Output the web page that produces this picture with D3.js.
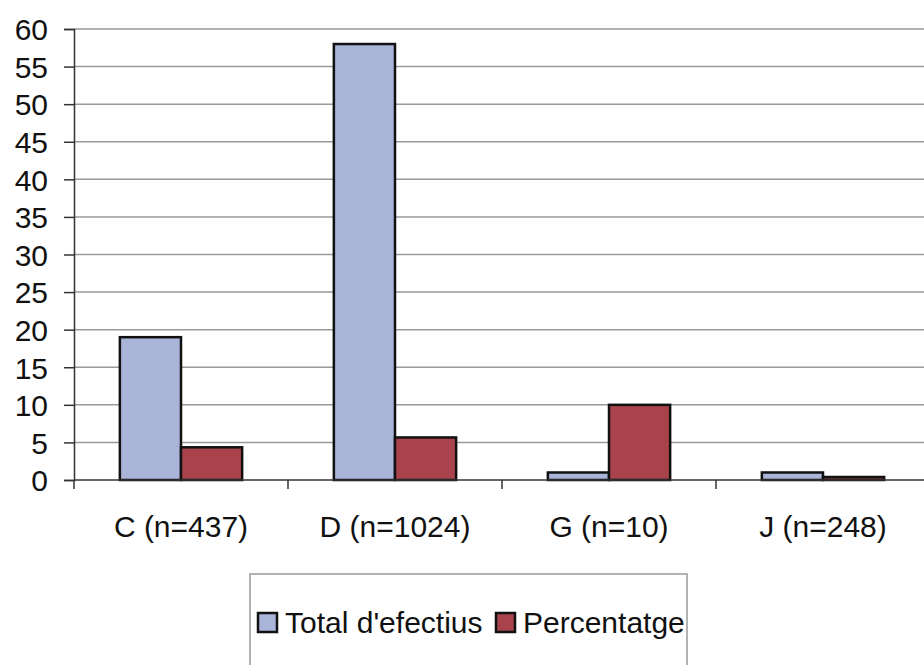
<!DOCTYPE html>
<html>
<head>
<meta charset="utf-8">
<script src="https://cdn.jsdelivr.net/npm/d3@7/dist/d3.min.js"></script>
<style>
  html, body { margin: 0; padding: 0; background: #fff; }
  svg { display: block; font-family: "Liberation Sans", Arial, sans-serif; }
</style>
</head>
<body>
<svg id="chart" width="924" height="665"></svg>
<script>
// Groups and their values
const categories = ["C (n=437)", "D (n=1024)", "G (n=10)", "J (n=248)"];
const seriesNames = ["Total d'efectius", "Percentatge"];
const totalEfectius = [19, 58, 1, 1];
const percentatge = [4.35, 5.66, 10, 0.4];
const yTicks = [0, 5, 10, 15, 20, 25, 30, 35, 40, 45, 50, 55, 60];
const seriesColors = ["#aab4d8", "#a8434c"];

const seriesValues = [totalEfectius, percentatge];
const rows = categories.map((c, i) => ({
  category: c,
  values: seriesNames.map((s, k) => ({ series: s, value: seriesValues[k][i], k }))
}));

const svg = d3.select("#chart");
const plotLeft = 74, plotRight = 930, plotTop = 29, plotBottom = 480;

const x = d3.scaleBand().domain(categories).range([plotLeft, plotRight]).padding(0);
const bw = x.bandwidth();
const gap = bw * 1.5 / 3.5; // gap width 150% of a bar
const xs = d3.scaleBand().domain(seriesNames).range([gap / 2, bw - gap / 2]).padding(0);
const y = d3.scaleLinear().domain([0, 60]).range([plotBottom, plotTop]);
const color = d3.scaleOrdinal().domain(seriesNames).range(seriesColors);

// Horizontal gridlines
svg.append("g")
  .selectAll("line")
  .data(yTicks.filter(t => t > 0))
  .join("line")
  .attr("x1", plotLeft).attr("x2", 924)
  .attr("y1", d => y(d)).attr("y2", d => y(d))
  .attr("stroke", "#9a9a9a").attr("stroke-width", 1.5);

// Bars
const groups = svg.append("g")
  .selectAll("g")
  .data(rows)
  .join("g")
  .attr("transform", d => `translate(${x(d.category)},0)`);

groups.selectAll("rect")
  .data(d => d.values)
  .join("rect")
  .attr("x", d => xs(d.series))
  .attr("width", xs.bandwidth())
  .attr("y", d => y(d.value))
  .attr("height", d => y(0) - y(d.value))
  .attr("fill", d => color(d.series))
  .attr("stroke", "#111")
  .attr("stroke-width", 2.5);

// Y axis
const yAxis = svg.append("g")
  .attr("transform", `translate(${plotLeft},0)`)
  .call(d3.axisLeft(y).tickValues(yTicks).tickSize(10).tickPadding(16));
yAxis.select(".domain").attr("stroke", "#333").attr("stroke-width", 1.5);
yAxis.selectAll(".tick line").attr("stroke", "#333").attr("stroke-width", 1.5);
yAxis.selectAll(".tick text")
  .attr("fill", "#111")
  .style("font-size", "30px")
  .attr("dy", "0.36em");

// X axis with ticks at the band boundaries
const xAxis = svg.append("g")
  .attr("transform", `translate(0,${plotBottom})`);
xAxis.append("line")
  .attr("x1", plotLeft).attr("x2", 924)
  .attr("stroke", "#333").attr("stroke-width", 1.5);
xAxis.selectAll("line.sep")
  .data(categories)
  .join("line")
  .attr("class", "sep")
  .attr("x1", d => x(d)).attr("x2", d => x(d))
  .attr("y1", 0).attr("y2", 9)
  .attr("stroke", "#333").attr("stroke-width", 1.5);
xAxis.selectAll("text")
  .data(categories)
  .join("text")
  .attr("x", d => x(d) + bw / 2)
  .attr("y", 57)
  .attr("text-anchor", "middle")
  .attr("fill", "#111")
  .style("font-size", "30px")
  .text(d => d);

// Legend
const legend = svg.append("g");
legend.append("rect")
  .attr("x", 250).attr("y", 574)
  .attr("width", 437).attr("height", 110)
  .attr("fill", "#fff").attr("stroke", "#9a9a9a").attr("stroke-width", 1.5);

const legendX = [258, 496];
const items = legend.selectAll("g.item")
  .data(seriesNames)
  .join("g")
  .attr("class", "item")
  .attr("transform", (d, i) => `translate(${legendX[i]},613)`);
items.append("rect")
  .attr("width", 19).attr("height", 19)
  .attr("fill", d => color(d))
  .attr("stroke", "#111").attr("stroke-width", 2.5);
items.append("text")
  .attr("x", 27).attr("y", 20)
  .attr("fill", "#111")
  .style("font-size", "30px")
  .text(d => d);
</script>
</body>
</html>
